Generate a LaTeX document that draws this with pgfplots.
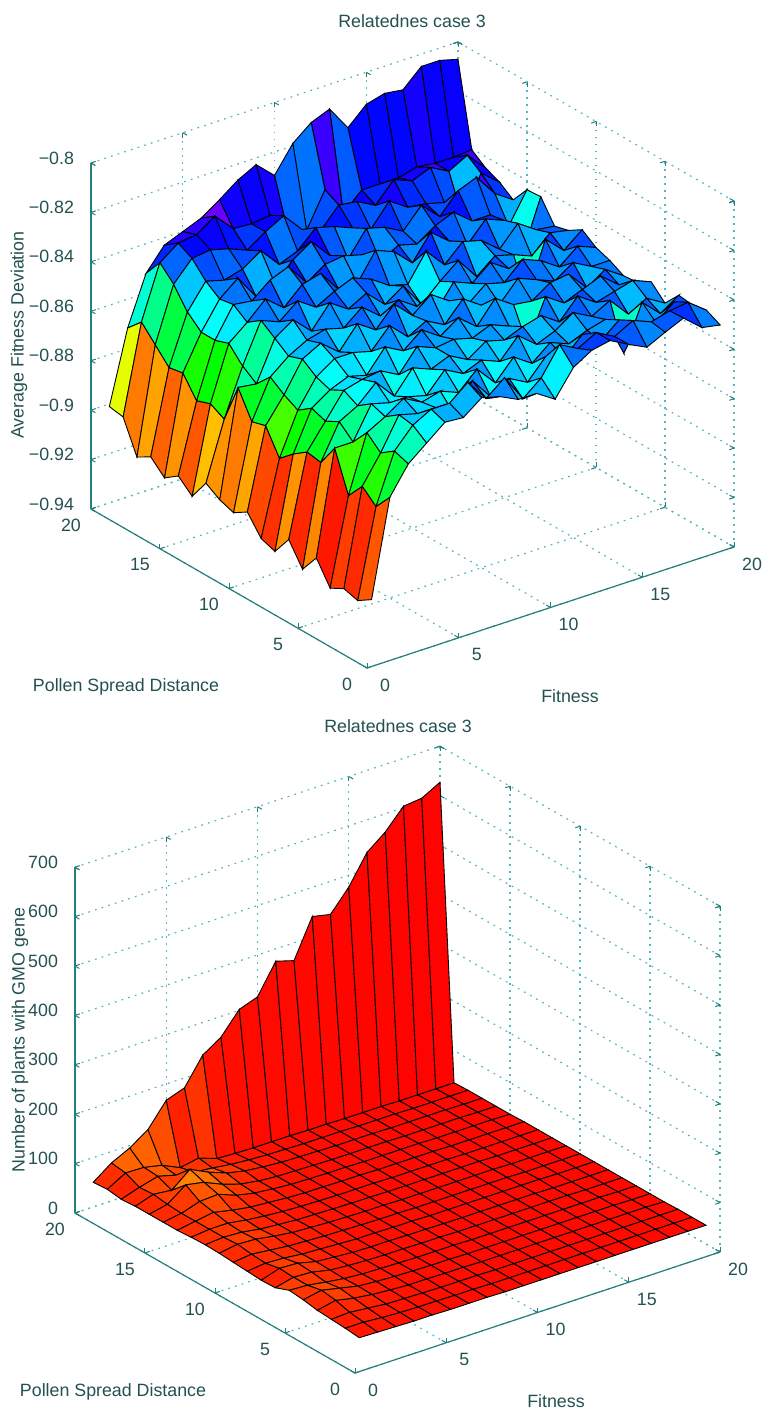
\documentclass[border=0pt]{standalone}
\usepackage{pgfplots}
\usepackage{pgfplotstable}
\usepackage{fontspec}
\setmainfont{Liberation Sans}
\pgfplotsset{compat=1.18}
\definecolor{axc}{RGB}{40,125,125}
\definecolor{grc}{RGB}{85,185,185}
\definecolor{txc}{RGB}{35,80,80}
\pgfplotstableread[row sep=\\]{
x y z\\
1 1 -.918\\2 1 -.879\\3 1 -.868\\4 1 -.862\\5 1 -.856\\6 1 -.8566\\7 1 -.851\\8 1 -.853\\9 1 -.8566\\10 1 -.8566\\11 1 -.8614\\12 1 -.851\\13 1 -.8465\\14 1 -.845\\15 1 -.849\\16 1 -.8526\\17 1 -.849\\18 1 -.8457\\19 1 -.852\\20 1 -.8534\\
1 2 -.9216\\2 2 -.886\\3 2 -.866\\4 2 -.858\\5 2 -.854\\6 2 -.854\\7 2 -.848\\8 2 -.857\\9 2 -.851\\10 2 -.862\\11 2 -.856\\12 2 -.845\\13 2 -.849\\14 2 -.845\\15 2 -.849\\16 2 -.845\\17 2 -.848\\18 2 -.846\\19 2 -.845\\20 2 -.8506\\
1 3 -.92\\2 3 -.881\\3 3 -.87\\4 3 -.857\\5 3 -.859\\6 3 -.859\\7 3 -.864\\8 3 -.853\\9 3 -.862\\10 3 -.857\\11 3 -.861\\12 3 -.853\\13 3 -.856\\14 3 -.849\\15 3 -.854\\16 3 -.848\\17 3 -.853\\18 3 -.854\\19 3 -.848\\20 3 -.8518\\
1 4 -.923\\2 4 -.888\\3 4 -.865\\4 4 -.861\\5 4 -.856\\6 4 -.86\\7 4 -.858\\8 4 -.861\\9 4 -.854\\10 4 -.862\\11 4 -.854\\12 4 -.859\\13 4 -.853\\14 4 -.856\\15 4 -.853\\16 4 -.851\\17 4 -.867\\18 4 -.849\\19 4 -.856\\20 4 -.851\\
1 5 -.914\\2 5 -.872\\3 5 -.872\\4 5 -.859\\5 5 -.861\\6 5 -.861\\7 5 -.863\\8 5 -.855\\9 5 -.859\\10 5 -.856\\11 5 -.859\\12 5 -.851\\13 5 -.857\\14 5 -.854\\15 5 -.849\\16 5 -.853\\17 5 -.849\\18 5 -.857\\19 5 -.853\\20 5 -.8574\\
1 6 -.9218\\2 6 -.881\\3 6 -.867\\4 6 -.863\\5 6 -.856\\6 6 -.864\\7 6 -.855\\8 6 -.858\\9 6 -.855\\10 6 -.859\\11 6 -.854\\12 6 -.856\\13 6 -.853\\14 6 -.851\\15 6 -.856\\16 6 -.848\\17 6 -.853\\18 6 -.851\\19 6 -.849\\20 6 -.852\\
1 7 -.913\\2 7 -.88\\3 7 -.87\\4 7 -.86\\5 7 -.858\\6 7 -.857\\7 7 -.861\\8 7 -.852\\9 7 -.855\\10 7 -.854\\11 7 -.856\\12 7 -.853\\13 7 -.856\\14 7 -.866\\15 7 -.849\\16 7 -.854\\17 7 -.851\\18 7 -.848\\19 7 -.854\\20 7 -.8554\\
1 8 -.921\\2 8 -.884\\3 8 -.868\\4 8 -.863\\5 8 -.86\\6 8 -.862\\7 8 -.853\\8 8 -.857\\9 8 -.851\\10 8 -.856\\11 8 -.851\\12 8 -.857\\13 8 -.848\\14 8 -.853\\15 8 -.854\\16 8 -.849\\17 8 -.848\\18 8 -.856\\19 8 -.851\\20 8 -.856\\
1 9 -.919\\2 9 -.889\\3 9 -.872\\4 9 -.861\\5 9 -.856\\6 9 -.856\\7 9 -.858\\8 9 -.85\\9 9 -.857\\10 9 -.853\\11 9 -.857\\12 9 -.849\\13 9 -.854\\14 9 -.856\\15 9 -.848\\16 9 -.851\\17 9 -.854\\18 9 -.849\\19 9 -.853\\20 9 -.853\\
1 10 -.9115\\2 10 -.879\\3 10 -.869\\4 10 -.857\\5 10 -.853\\6 10 -.859\\7 10 -.85\\8 10 -.855\\9 10 -.847\\10 10 -.854\\11 10 -.848\\12 10 -.853\\13 10 -.857\\14 10 -.851\\15 10 -.853\\16 10 -.846\\17 10 -.849\\18 10 -.854\\19 10 -.848\\20 10 -.851\\
1 11 -.915\\2 11 -.8806\\3 11 -.865\\4 11 -.859\\5 11 -.855\\6 11 -.853\\7 11 -.855\\8 11 -.849\\9 11 -.855\\10 11 -.851\\11 11 -.856\\12 11 -.861\\13 11 -.851\\14 11 -.854\\15 11 -.848\\16 11 -.853\\17 11 -.867\\18 11 -.846\\19 11 -.853\\20 11 -.847\\
1 12 -.913\\2 12 -.87\\3 12 -.871\\4 12 -.855\\5 12 -.85\\6 12 -.857\\7 12 -.848\\8 12 -.853\\9 12 -.849\\10 12 -.856\\11 12 -.851\\12 12 -.861\\13 12 -.854\\14 12 -.848\\15 12 -.857\\16 12 -.851\\17 12 -.853\\18 12 -.856\\19 12 -.849\\20 12 -.8505\\
1 13 -.9095\\2 13 -.886\\3 13 -.867\\4 13 -.851\\5 13 -.854\\6 13 -.848\\7 13 -.853\\8 13 -.849\\9 13 -.846\\10 13 -.849\\11 13 -.854\\12 13 -.856\\13 13 -.845\\14 13 -.853\\15 13 -.846\\16 13 -.848\\17 13 -.854\\18 13 -.846\\19 13 -.851\\20 13 -.852\\
1 14 -.918\\2 14 -.883\\3 14 -.861\\4 14 -.855\\5 14 -.848\\6 14 -.854\\7 14 -.847\\8 14 -.845\\9 14 -.854\\10 14 -.854\\11 14 -.843\\12 14 -.846\\13 14 -.853\\14 14 -.843\\15 14 -.849\\16 14 -.853\\17 14 -.845\\18 14 -.848\\19 14 -.864\\20 14 -.8433\\
1 15 -.913\\2 15 -.885\\3 15 -.863\\4 15 -.851\\5 15 -.852\\6 15 -.846\\7 15 -.843\\8 15 -.852\\9 15 -.847\\10 15 -.846\\11 15 -.848\\12 15 -.853\\13 15 -.849\\14 15 -.851\\15 15 -.846\\16 15 -.843\\17 15 -.849\\18 15 -.849\\19 15 -.856\\20 15 -.8437\\
1 16 -.917\\2 16 -.877\\3 16 -.863\\4 16 -.852\\5 16 -.846\\6 16 -.856\\7 16 -.853\\8 16 -.846\\9 16 -.841\\10 16 -.849\\11 16 -.853\\12 16 -.843\\13 16 -.845\\14 16 -.849\\15 16 -.841\\16 16 -.848\\17 16 -.840\\18 16 -.837\\19 16 -.846\\20 16 -.851\\
1 17 -.9117\\2 17 -.878\\3 17 -.858\\4 17 -.848\\5 17 -.85\\6 17 -.848\\7 17 -.843\\8 17 -.851\\9 17 -.848\\10 17 -.841\\11 17 -.843\\12 17 -.846\\13 17 -.849\\14 17 -.840\\15 17 -.845\\16 17 -.846\\17 17 -.848\\18 17 -.857\\19 17 -.841\\20 17 -.847\\
1 18 -.915\\2 18 -.872\\3 18 -.85\\4 18 -.842\\5 18 -.841\\6 18 -.843\\7 18 -.846\\8 18 -.841\\9 18 -.837\\10 18 -.845\\11 18 -.848\\12 18 -.840\\13 18 -.841\\14 18 -.845\\15 18 -.837\\16 18 -.840\\17 18 -.837\\18 18 -.841\\19 18 -.837\\20 18 -.8445\\
1 19 -.902\\2 19 -.866\\3 19 -.8445\\4 19 -.839\\5 19 -.838\\6 19 -.833\\7 19 -.8405\\8 19 -.841\\9 19 -.84\\10 19 -.85\\11 19 -.851\\12 19 -.837\\13 19 -.849\\14 19 -.842\\15 19 -.842\\16 19 -.842\\17 19 -.84\\18 19 -.841\\19 19 -.841\\20 19 -.8404\\
1 20 -.901\\2 20 -.8716\\3 20 -.852\\4 20 -.843\\5 20 -.84\\6 20 -.837\\7 20 -.832\\8 20 -.8265\\9 20 -.8227\\10 20 -.8295\\11 20 -.819\\12 20 -.813\\13 20 -.81\\14 20 -.82\\15 20 -.813\\16 20 -.811\\17 20 -.812\\18 20 -.805\\19 20 -.805\\20 20 -.807\\
}\tabA
\pgfplotstableread[row sep=\\]{
x y z\\
1 1 43\\2 1 42\\3 1 41\\4 1 40\\5 1 40\\6 1 39\\7 1 39\\8 1 39\\9 1 38\\10 1 38\\11 1 38\\12 1 38\\13 1 38\\14 1 38\\15 1 38\\16 1 38\\17 1 38\\18 1 38\\19 1 38\\20 1 38\\
1 2 46\\2 2 46\\3 2 43\\4 2 41\\5 2 40\\6 2 40\\7 2 39\\8 2 39\\9 2 38\\10 2 38\\11 2 38\\12 2 38\\13 2 38\\14 2 38\\15 2 38\\16 2 38\\17 2 38\\18 2 38\\19 2 38\\20 2 38\\
1 3 48\\2 3 50\\3 3 46\\4 3 42\\5 3 41\\6 3 40\\7 3 39\\8 3 39\\9 3 39\\10 3 38\\11 3 38\\12 3 38\\13 3 38\\14 3 38\\15 3 38\\16 3 38\\17 3 38\\18 3 38\\19 3 38\\20 3 38\\
1 4 50\\2 4 58\\3 4 50\\4 4 45\\5 4 42\\6 4 40\\7 4 40\\8 4 39\\9 4 39\\10 4 38\\11 4 38\\12 4 38\\13 4 38\\14 4 38\\15 4 38\\16 4 38\\17 4 38\\18 4 38\\19 4 38\\20 4 37\\
1 5 55\\2 5 62\\3 5 54\\4 5 46\\5 5 43\\6 5 41\\7 5 40\\8 5 39\\9 5 39\\10 5 38\\11 5 38\\12 5 38\\13 5 38\\14 5 38\\15 5 38\\16 5 38\\17 5 38\\18 5 38\\19 5 37\\20 5 37\\
1 6 58\\2 6 56\\3 6 50\\4 6 45\\5 6 42\\6 6 41\\7 6 40\\8 6 39\\9 6 39\\10 6 39\\11 6 38\\12 6 38\\13 6 38\\14 6 38\\15 6 38\\16 6 38\\17 6 38\\18 6 38\\19 6 37\\20 6 37\\
1 7 47\\2 7 56\\3 7 54\\4 7 46\\5 7 43\\6 7 41\\7 7 40\\8 7 40\\9 7 39\\10 7 39\\11 7 38\\12 7 38\\13 7 38\\14 7 38\\15 7 38\\16 7 38\\17 7 38\\18 7 37\\19 7 37\\20 7 37\\
1 8 46\\2 8 58\\3 8 56\\4 8 47\\5 8 44\\6 8 41\\7 8 40\\8 8 40\\9 8 39\\10 8 39\\11 8 38\\12 8 38\\13 8 38\\14 8 38\\15 8 38\\16 8 38\\17 8 37\\18 8 37\\19 8 37\\20 8 37\\
1 9 48\\2 9 52\\3 9 50\\4 9 46\\5 9 44\\6 9 42\\7 9 40\\8 9 40\\9 9 39\\10 9 39\\11 9 38\\12 9 38\\13 9 38\\14 9 38\\15 9 38\\16 9 38\\17 9 38\\18 9 37\\19 9 37\\20 9 37\\
1 10 50\\2 10 54\\3 10 50\\4 10 46\\5 10 44\\6 10 42\\7 10 41\\8 10 40\\9 10 39\\10 10 39\\11 10 38\\12 10 38\\13 10 38\\14 10 38\\15 10 38\\16 10 38\\17 10 37\\18 10 37\\19 10 37\\20 10 37\\
1 11 52\\2 11 58\\3 11 56\\4 11 50\\5 11 45\\6 11 43\\7 11 41\\8 11 40\\9 11 39\\10 11 39\\11 11 38\\12 11 38\\13 11 38\\14 11 38\\15 11 38\\16 11 38\\17 11 37\\18 11 37\\19 11 37\\20 11 37\\
1 12 53\\2 12 56\\3 12 54\\4 12 48\\5 12 45\\6 12 42\\7 12 41\\8 12 40\\9 12 39\\10 12 39\\11 12 38\\12 12 38\\13 12 38\\14 12 38\\15 12 38\\16 12 38\\17 12 37\\18 12 37\\19 12 37\\20 12 37\\
1 13 52\\2 13 56\\3 13 56\\4 13 50\\5 13 46\\6 13 43\\7 13 41\\8 13 40\\9 13 39\\10 13 39\\11 13 39\\12 13 38\\13 13 38\\14 13 38\\15 13 38\\16 13 37\\17 13 37\\18 13 37\\19 13 37\\20 13 37\\
1 14 50\\2 14 56\\3 14 62\\4 14 54\\5 14 48\\6 14 45\\7 14 42\\8 14 40\\9 14 40\\10 14 39\\11 14 39\\12 14 38\\13 14 38\\14 14 38\\15 14 38\\16 14 37\\17 14 37\\18 14 37\\19 14 37\\20 14 37\\
1 15 50\\2 15 56\\3 15 68\\4 15 70\\5 15 56\\6 15 48\\7 15 44\\8 15 41\\9 15 40\\10 15 39\\11 15 39\\12 15 38\\13 15 38\\14 15 38\\15 15 38\\16 15 37\\17 15 37\\18 15 37\\19 15 37\\20 15 36\\
1 16 50\\2 16 58\\3 16 85\\4 16 78\\5 16 62\\6 16 50\\7 16 44\\8 16 41\\9 16 40\\10 16 39\\11 16 38\\12 16 38\\13 16 38\\14 16 38\\15 16 37\\16 16 37\\17 16 37\\18 16 37\\19 16 36\\20 16 36\\
1 17 50\\2 17 62\\3 17 58\\4 17 88\\5 17 70\\6 17 56\\7 17 48\\8 17 44\\9 17 41\\10 17 40\\11 17 39\\12 17 38\\13 17 38\\14 17 38\\15 17 37\\16 17 37\\17 17 37\\18 17 37\\19 17 36\\20 17 36\\
1 18 48\\2 18 60\\3 18 70\\4 18 60\\5 18 54\\6 18 50\\7 18 45\\8 18 42\\9 18 40\\10 18 39\\11 18 38\\12 18 38\\13 18 38\\14 18 37\\15 18 37\\16 18 37\\17 18 36\\18 18 36\\19 18 36\\20 18 36\\
1 19 52\\2 19 73\\3 19 72\\4 19 64\\5 19 47\\6 19 54\\7 19 41\\8 19 39\\9 19 38\\10 19 38\\11 19 38\\12 19 37\\13 19 37\\14 19 36\\15 19 36\\16 19 36\\17 19 35\\18 19 35\\19 19 35\\20 19 35\\
1 20 50\\2 20 77\\3 20 95\\4 20 120\\5 20 167\\6 20 180\\7 20 234\\8 20 258\\9 20 302\\10 20 315\\11 20 375\\12 20 364\\13 20 441\\14 20 433\\15 20 476\\16 20 534\\17 20 563\\18 20 603\\19 20 607\\20 20 627\\
}\tabB
\pgfplotsset{
  colormap={hsvc}{rgb255=(255,0,0) rgb255=(255,255,0) rgb255=(0,255,0) rgb255=(0,255,255) rgb255=(0,0,255) rgb255=(255,0,255) rgb255=(255,0,0)},
  mystyle/.style={
    clip=false,
    xmin=0,xmax=20,ymin=0,ymax=20,
    xtick={0,5,10,15,20},ytick={0,5,10,15,20},
    /pgf/number format/assume math mode=true,
    grid=major,
    grid style={color=grc,line width=0.6pt,dash pattern=on 0.9pt off 2.6pt},
    axis line style={draw=none},
    tick style={color=axc,line width=0.5pt},
    tickwidth=2.5pt,
    every tick label/.append style={font=\fontsize{8.9}{10}\selectfont,text=txc},
    xticklabel style={anchor=center,xshift=9pt,yshift=-8.5pt},
    yticklabel style={anchor=center,xshift=-10pt,yshift=-8pt},
    zticklabel style={anchor=east,xshift=-5pt,yshift=2.5pt},
  },
}
\tikzset{lab/.style={font=\fontsize{8.9}{10}\selectfont,text=txc}}
\begin{document}
\begin{tikzpicture}[x=0.5pt,y=-0.5pt]
\path[use as bounding box] (0,0) rectangle (765,1411);
\begin{axis}[mystyle,
  at={(183.5pt,-161pt)},anchor=origin,
  x={(9.175pt,3.025pt)},y={(-6.9pt,3.975pt)},z={(0pt,1235.7pt)},
  zmin=-0.94,zmax=-0.8,
  ztick={-0.94,-0.92,-0.9,-0.88,-0.86,-0.84,-0.82,-0.8},
  zticklabels={−0.94,−0.92,−0.9,−0.88,−0.86,−0.84,−0.82,−0.8},
]
\addplot3[surf,shader=flat corner,draw=black,line width=0.45pt,z buffer=sort,mesh/rows=20,mesh/cols=20,point meta=z,point meta min=-0.925,point meta max=-0.80] table[x=x,y=y,z=z] {\tabA};
\draw[axc,line width=0.6pt] (axis cs:0,20,-0.94) -- (axis cs:0,0,-0.94) -- (axis cs:20,0,-0.94);
\draw[axc,line width=0.6pt] (axis cs:0,20,-0.94) -- (axis cs:0,20,-0.8);
\end{axis}
\begin{axis}[mystyle,
  at={(177.5pt,-686.5pt)},anchor=origin,
  x={(9.125pt,3.025pt)},y={(-7pt,4pt)},z={(0pt,0.247pt)},
  zmin=0,zmax=700,
  ztick={0,100,200,300,400,500,600,700},
]
\addplot3[surf,shader=flat corner,draw=black,line width=0.45pt,z buffer=sort,mesh/rows=20,mesh/cols=20,point meta=z,point meta min=34,point meta max=630] table[x=x,y=y,z=z] {\tabB};
\draw[axc,line width=0.6pt] (axis cs:0,20,0) -- (axis cs:0,0,0) -- (axis cs:20,0,0);
\draw[axc,line width=0.6pt] (axis cs:0,20,0) -- (axis cs:0,20,700);
\end{axis}
\node[lab] at (412,21) {Relatednes case 3};
\node[lab] at (126,687) {Pollen Spread Distance};
\node[lab] at (570,696) {Fitness};
\node[lab,rotate=90] at (19,335) {Average Fitness Deviation};
\node[lab] at (398,726) {Relatednes case 3};
\node[lab] at (113,1392) {Pollen Spread Distance};
\node[lab] at (556,1401) {Fitness};
\node[lab,rotate=90] at (20,1040) {Number of plants with GMO gene};
\end{tikzpicture}
\end{document}
